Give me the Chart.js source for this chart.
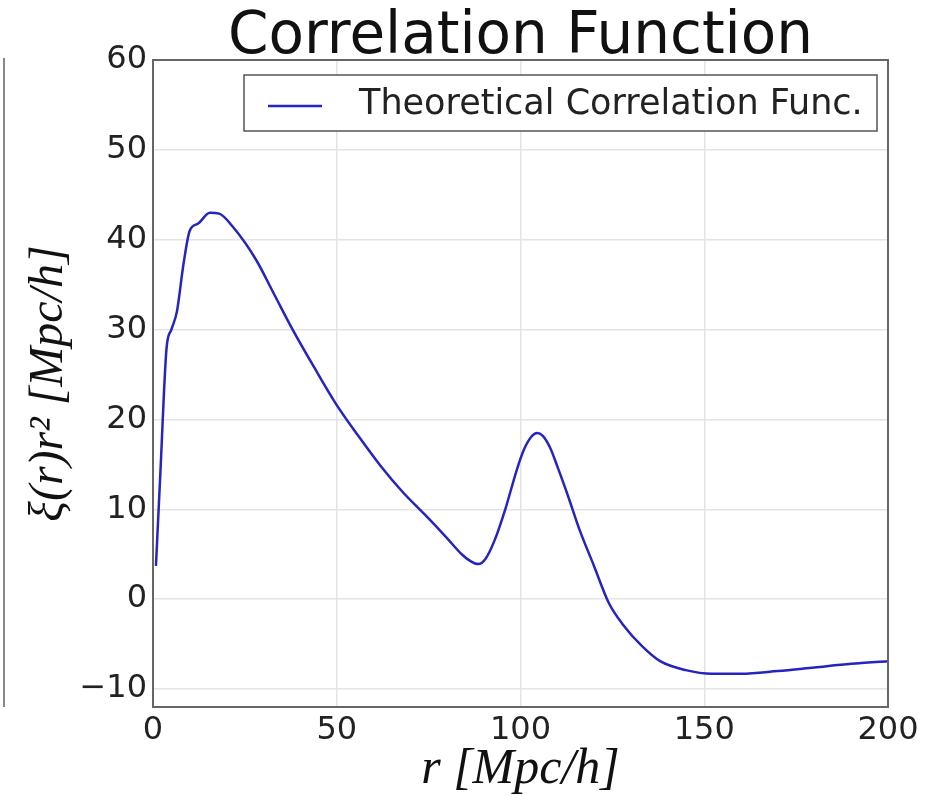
<!DOCTYPE html>
<html>
<head>
<meta charset="utf-8">
<script src="https://cdn.jsdelivr.net/npm/chart.js@4.4.1/dist/chart.umd.min.js"></script>
<style>
  html, body { margin: 0; padding: 0; background: #ffffff; }
  #wrap { width: 932px; height: 796px; }
</style>
</head>
<body>
<div id="wrap"><canvas id="chart" width="932" height="796"></canvas></div>
<script>
// values
const rValues = [0.8, 2, 3.7, 5, 6.5, 8.3, 10, 12.3, 15.5, 18, 22, 28, 33, 38, 44, 50, 56, 62, 68, 74, 80, 84, 86.5, 88.5, 90.5, 93, 96, 99, 101, 103, 104.5, 106, 108, 110, 113, 116, 120, 124, 128, 133, 138, 145, 152, 160, 170, 180, 190, 200];
const xiValues = [3.7, 14, 28, 30, 32, 37.3, 41, 41.8, 43, 42.9, 41.3, 37.8, 33.9, 30, 25.7, 21.6, 18.1, 14.8, 11.9, 9.4, 6.8, 5.0, 4.2, 3.9, 4.5, 6.6, 10.2, 14.4, 16.7, 18.1, 18.5, 18.2, 16.9, 14.8, 11.4, 7.8, 3.7, -0.4, -2.9, -5.2, -6.9, -7.9, -8.3, -8.3, -8.0, -7.6, -7.2, -6.9];
const xTickValues = [0, 50, 100, 150, 200];
const yTickValues = [-10, 0, 10, 20, 30, 40, 50, 60];
const seriesLabel = 'Theoretical Correlation Func.';
const chartTitle = 'Correlation Function';

const points = rValues.map((r, i) => ({ x: r, y: xiValues[i] }));

// title over the plot, frame round the plot, legend box, edge of the neighbouring panel
const framePlugin = {
    id: 'frame',
    afterDraw(chart) {
        const ctx = chart.ctx;
        const a = chart.chartArea;
        ctx.save();

        ctx.fillStyle = '#111111';
        ctx.font = '58px "DejaVu Sans"';
        ctx.textAlign = 'center';
        ctx.textBaseline = 'alphabetic';
        ctx.fillText(chartTitle, (a.left + a.right) / 2, 53);

        ctx.strokeStyle = '#666666';
        ctx.lineWidth = 2;
        ctx.strokeRect(a.left, a.top, a.right - a.left, a.bottom - a.top);

        // left panel cut off at the edge of the picture
        ctx.strokeStyle = '#888888';
        ctx.beginPath();
        ctx.moveTo(4, a.top - 2);
        ctx.lineTo(4, a.bottom);
        ctx.stroke();

        // legend
        const ds = chart.data.datasets[0];
        const bx = a.left + 91, by = a.top + 15, bw = a.right - 11 - bx, bh = 56;
        ctx.fillStyle = '#ffffff';
        ctx.fillRect(bx, by, bw, bh);
        ctx.strokeStyle = '#555555';
        ctx.lineWidth = 1.5;
        ctx.strokeRect(bx, by, bw, bh);

        ctx.strokeStyle = ds.borderColor;
        ctx.lineWidth = 2.5;
        ctx.beginPath();
        ctx.moveTo(bx + 24, by + 31);
        ctx.lineTo(bx + 78, by + 31);
        ctx.stroke();

        ctx.fillStyle = '#222222';
        ctx.font = '35px "DejaVu Sans"';
        ctx.textBaseline = 'middle';
        ctx.textAlign = 'left';
        ctx.fillText(ds.label, bx + 115, by + 30);
        ctx.restore();
    }
};

const config = {
    type: 'line',
    data: {
        datasets: [
            {
                label: seriesLabel,
                data: points,
                borderColor: 'rgb(36, 36, 190)',
                borderWidth: 2.5,
                pointRadius: 0,
                fill: false,
                cubicInterpolationMode: 'monotone',
            },
        ],
    },
    options: {
        responsive: false,
        animation: false,
        devicePixelRatio: 1,
        layout: {
            padding: { left: 0, right: 44, top: 60, bottom: 0 },
        },
        scales: {
            x: {
                type: 'linear',
                min: 0,
                max: 200,
                afterBuildTicks: scale => { scale.ticks = xTickValues.map(v => ({ value: v })); },
                afterFit: scale => { scale.height = 89; },
                title: {
                    display: true,
                    text: 'r [Mpc/h]',
                    font: { size: 50, family: '"Liberation Serif"', style: 'italic', lineHeight: 1.0 },
                    color: '#111111',
                    padding: { top: 0, bottom: 1 },
                },
                grid: {
                    color: '#e4e4e4',
                    lineWidth: 1.5,
                    drawTicks: false,
                },
                border: { display: false },
                ticks: {
                    color: '#222222',
                    padding: 4,
                    maxRotation: 0,
                    font: { size: 32, family: '"DejaVu Sans"' },
                },
            },
            y: {
                type: 'linear',
                min: -12,
                max: 60,
                afterBuildTicks: scale => { scale.ticks = yTickValues.map(v => ({ value: v })); },
                afterFit: scale => { scale.width = 153; },
                title: {
                    display: true,
                    text: 'ξ(r)r² [Mpc/h]',
                    font: { size: 48, family: '"Liberation Serif"', style: 'italic', lineHeight: 1.0 },
                    color: '#111111',
                    padding: { top: 25, bottom: 0 },
                },
                grid: {
                    color: '#e4e4e4',
                    lineWidth: 1.5,
                    drawTicks: false,
                },
                border: { display: false },
                ticks: {
                    color: '#222222',
                    padding: 6,
                    font: { size: 32, family: '"DejaVu Sans"' },
                    callback: v => String(v).replace('-', '\u2212'),
                },
            },
        },
        plugins: {
            legend: { display: false },
            tooltip: { enabled: false },
            title: { display: false },
        },
    },
    plugins: [framePlugin],
};

const chart = new Chart(document.getElementById('chart'), config);
</script>
</body>
</html>
